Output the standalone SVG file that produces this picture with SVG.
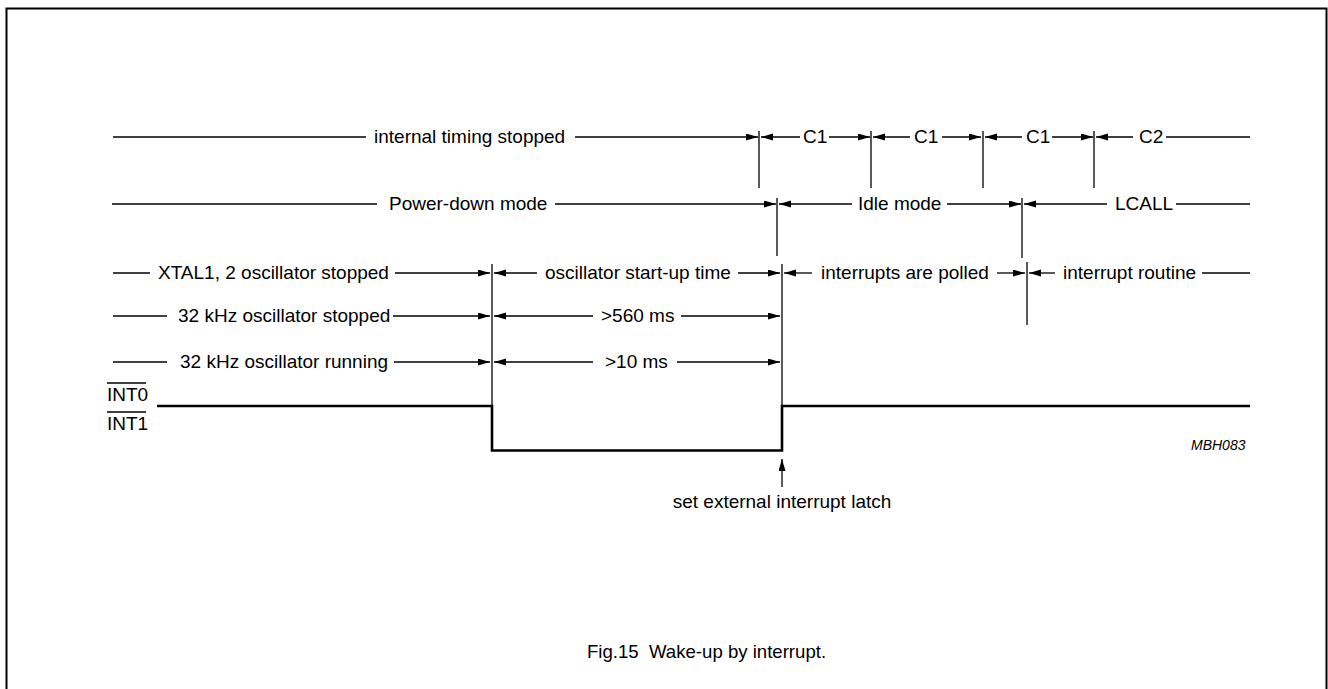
<svg xmlns="http://www.w3.org/2000/svg" width="1328" height="689" viewBox="0 0 1328 689">
<defs>
<style>
.t{font-family:"Liberation Sans",Arial,sans-serif;font-size:19px;fill:#000}
.ln{stroke:#000;stroke-width:1.3;fill:none}
.ar{stroke:#000;stroke-width:1.3;fill:none;marker-end:url(#ah)}
.sig{stroke:#000;stroke-width:2.6;fill:none}
</style>
<marker id="ah" markerUnits="userSpaceOnUse" markerWidth="13" markerHeight="8" refX="12" refY="3.5" orient="auto">
<path d="M0,0 L12,3.5 L0,7 z" fill="#000"/>
</marker>
</defs>
<rect width="1328" height="689" fill="#fff"/>
<rect x="6.5" y="8.5" width="1320" height="700" fill="none" stroke="#000" stroke-width="2"/>

<g id="connectors">
<!-- row 1 -->
<line class="ln" x1="113" y1="137" x2="366" y2="137"/>
<line class="ar" x1="575" y1="137" x2="758" y2="137"/>
<line class="ar" x1="800" y1="137" x2="761" y2="137"/>
<line class="ar" x1="829" y1="137" x2="870" y2="137"/>
<line class="ar" x1="910" y1="137" x2="873" y2="137"/>
<line class="ar" x1="942" y1="137" x2="981" y2="137"/>
<line class="ar" x1="1022" y1="137" x2="985" y2="137"/>
<line class="ar" x1="1052" y1="137" x2="1093" y2="137"/>
<line class="ar" x1="1133" y1="137" x2="1096" y2="137"/>
<line class="ln" x1="1166" y1="137" x2="1250" y2="137"/>
<line class="ln" x1="759" y1="131" x2="759" y2="188"/>
<line class="ln" x1="871" y1="131" x2="871" y2="188"/>
<line class="ln" x1="983" y1="131" x2="983" y2="188"/>
<line class="ln" x1="1094" y1="131" x2="1094" y2="188"/>
<!-- row 2 -->
<line class="ln" x1="112" y1="204" x2="377" y2="204"/>
<line class="ar" x1="555" y1="204" x2="776" y2="204"/>
<line class="ar" x1="852" y1="204" x2="779" y2="204"/>
<line class="ar" x1="947" y1="204" x2="1021" y2="204"/>
<line class="ar" x1="1107" y1="204" x2="1024" y2="204"/>
<line class="ln" x1="1176" y1="204" x2="1250" y2="204"/>
<line class="ln" x1="777" y1="198" x2="777" y2="256"/>
<line class="ln" x1="1022" y1="198" x2="1022" y2="258"/>
<!-- row 3 -->
<line class="ln" x1="113" y1="273" x2="150" y2="273"/>
<line class="ar" x1="395" y1="273" x2="490" y2="273"/>
<line class="ar" x1="537" y1="273" x2="494" y2="273"/>
<line class="ar" x1="738" y1="273" x2="780" y2="273"/>
<line class="ar" x1="812" y1="273" x2="784" y2="273"/>
<line class="ar" x1="997" y1="273" x2="1025" y2="273"/>
<line class="ar" x1="1055" y1="273" x2="1029" y2="273"/>
<line class="ln" x1="1202" y1="273" x2="1250" y2="273"/>
<line class="ln" x1="1027" y1="262" x2="1027" y2="325"/>
<!-- row 4 -->
<line class="ln" x1="113" y1="316" x2="167" y2="316"/>
<line class="ar" x1="393" y1="316" x2="490" y2="316"/>
<line class="ar" x1="593" y1="316" x2="494" y2="316"/>
<line class="ar" x1="681" y1="316" x2="780" y2="316"/>
<!-- row 5 -->
<line class="ln" x1="113" y1="362" x2="167" y2="362"/>
<line class="ar" x1="394" y1="362" x2="490" y2="362"/>
<line class="ar" x1="593" y1="362" x2="494" y2="362"/>
<line class="ar" x1="677" y1="362" x2="780" y2="362"/>
<!-- verticals rows 3-5 -->
<line class="ln" x1="492" y1="264" x2="492" y2="406"/>
<line class="ln" x1="782" y1="264" x2="782" y2="406"/>
<!-- signal -->
<polyline class="sig" points="157,406 492,406 492,450.5 782,450.5 782,406 1250,406"/>
<!-- latch arrow -->
<line class="ar" x1="782" y1="487" x2="782" y2="459"/>
</g>

<g id="row1-labels">
<text class="t" x="374" y="143">internal timing stopped</text>
<text class="t" x="803" y="143">C1</text>
<text class="t" x="914" y="143">C1</text>
<text class="t" x="1026" y="143">C1</text>
<text class="t" x="1139" y="143">C2</text>
</g>
<g id="row2-labels">
<text class="t" x="389" y="210">Power-down mode</text>
<text class="t" x="858" y="210">Idle mode</text>
<text class="t" x="1115" y="210">LCALL</text>
</g>
<g id="row3-labels">
<text class="t" x="158" y="279">XTAL1, 2 oscillator stopped</text>
<text class="t" x="545" y="279">oscillator start-up time</text>
<text class="t" x="821" y="279">interrupts are polled</text>
<text class="t" x="1063" y="279">interrupt routine</text>
</g>
<g id="row4-labels">
<text class="t" x="178" y="322">32 kHz oscillator stopped</text>
<text class="t" x="601" y="322">&gt;560 ms</text>
</g>
<g id="row5-labels">
<text class="t" x="180" y="368">32 kHz oscillator running</text>
<text class="t" x="605" y="368">&gt;10 ms</text>
</g>
<g id="signal-label">
<text class="t" x="107" y="401">INT0</text>
<line class="ln" x1="107" y1="383" x2="146" y2="383"/>
<text class="t" x="107" y="430">INT1</text>
<line class="ln" x1="107" y1="412" x2="146" y2="412"/>
</g>
<g id="latch-label">
<text class="t" x="782" y="508" text-anchor="middle">set external interrupt latch</text>
</g>
<g id="ref">
<text x="1191" y="450" style="font-family:'Liberation Sans',Arial,sans-serif;font-size:14px;font-style:italic">MBH083</text>
</g>
<g id="caption">
<text class="t" x="587" y="658" style="font-size:18.6px">Fig.15&#160; Wake-up by interrupt.</text>
</g>
</svg>
